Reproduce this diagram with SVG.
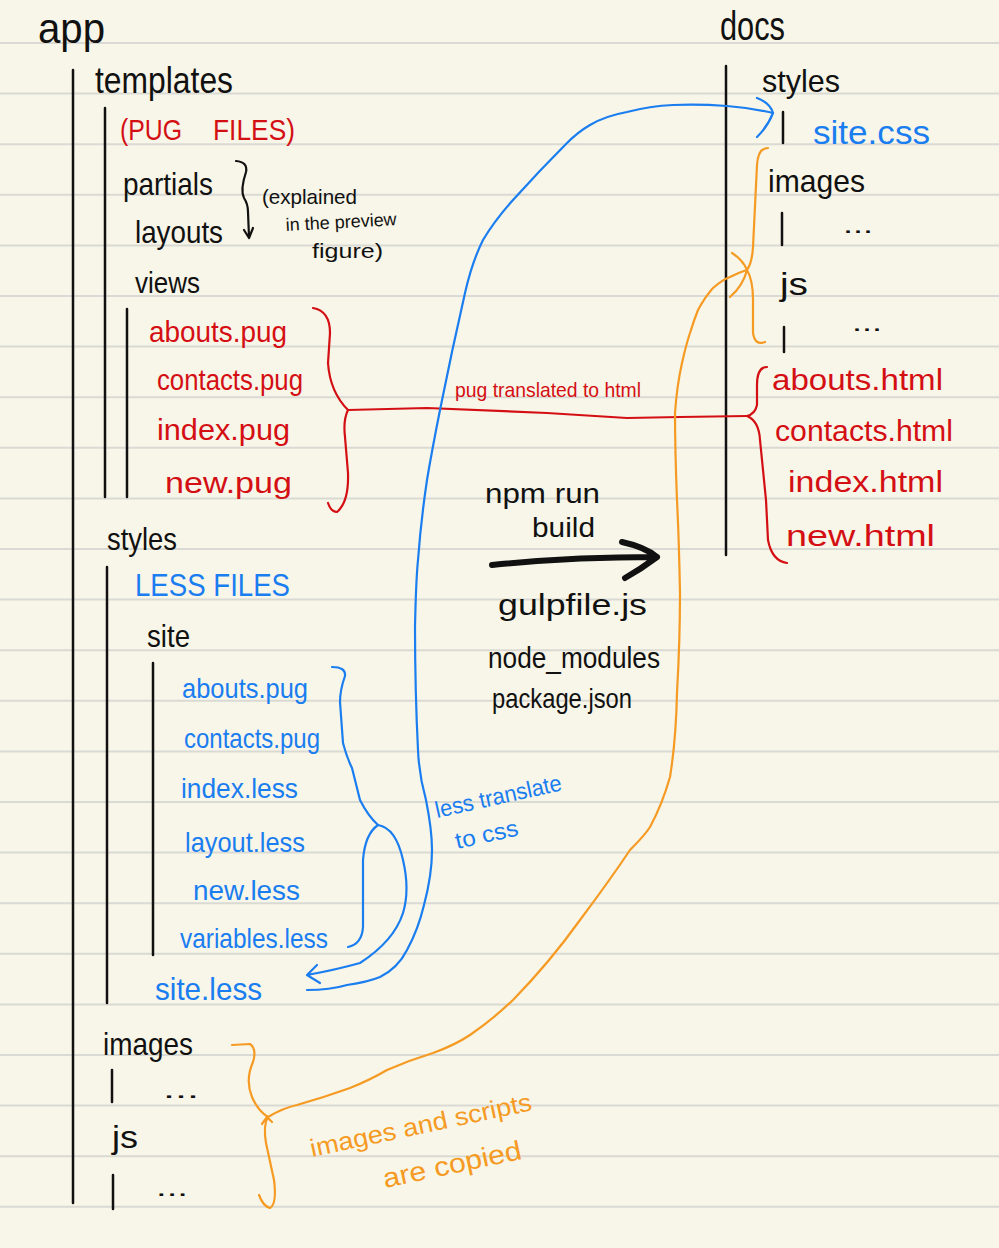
<svg xmlns="http://www.w3.org/2000/svg" width="999" height="1248" viewBox="0 0 999 1248">
<style>
text{font-family:"Liberation Sans","DejaVu Sans",sans-serif;}
.k{fill:#111;}
.r{fill:#d40f14;}
.b{fill:#1a7df0;}
.o{fill:#f59a23;}
.rule{stroke:#dadad4;stroke-width:2;}
.vl{stroke:#111;stroke-width:2.5;fill:none;stroke-linecap:round;}
.cb{stroke:#1a7df0;stroke-width:2.2;fill:none;stroke-linecap:round;stroke-linejoin:round;}
.cr{stroke:#d40f14;stroke-width:2.2;fill:none;stroke-linecap:round;stroke-linejoin:round;}
.co{stroke:#f59a23;stroke-width:2.2;fill:none;stroke-linecap:round;stroke-linejoin:round;}
.ck{stroke:#111;stroke-width:2.2;fill:none;stroke-linecap:round;stroke-linejoin:round;}
</style>
<rect width="999" height="1248" fill="#f8f6e8"/>
<g id="paper-rules">
<line class="rule" x1="0" x2="999" y1="43" y2="43"/>
<line class="rule" x1="0" x2="999" y1="93.6" y2="93.6"/>
<line class="rule" x1="0" x2="999" y1="144.2" y2="144.2"/>
<line class="rule" x1="0" x2="999" y1="194.8" y2="194.8"/>
<line class="rule" x1="0" x2="999" y1="245.4" y2="245.4"/>
<line class="rule" x1="0" x2="999" y1="296" y2="296"/>
<line class="rule" x1="0" x2="999" y1="346.6" y2="346.6"/>
<line class="rule" x1="0" x2="999" y1="397.2" y2="397.2"/>
<line class="rule" x1="0" x2="999" y1="447.8" y2="447.8"/>
<line class="rule" x1="0" x2="999" y1="498.4" y2="498.4"/>
<line class="rule" x1="0" x2="999" y1="549" y2="549"/>
<line class="rule" x1="0" x2="999" y1="599.6" y2="599.6"/>
<line class="rule" x1="0" x2="999" y1="650.2" y2="650.2"/>
<line class="rule" x1="0" x2="999" y1="700.8" y2="700.8"/>
<line class="rule" x1="0" x2="999" y1="751.4" y2="751.4"/>
<line class="rule" x1="0" x2="999" y1="802" y2="802"/>
<line class="rule" x1="0" x2="999" y1="852.6" y2="852.6"/>
<line class="rule" x1="0" x2="999" y1="903.2" y2="903.2"/>
<line class="rule" x1="0" x2="999" y1="953.8" y2="953.8"/>
<line class="rule" x1="0" x2="999" y1="1004.4" y2="1004.4"/>
<line class="rule" x1="0" x2="999" y1="1055" y2="1055"/>
<line class="rule" x1="0" x2="999" y1="1105.6" y2="1105.6"/>
<line class="rule" x1="0" x2="999" y1="1156.2" y2="1156.2"/>
<line class="rule" x1="0" x2="999" y1="1206.8" y2="1206.8"/>
</g>

<g id="tree-lines">
<line class="vl" x1="73" y1="70" x2="73" y2="1203"/>
<line class="vl" x1="105" y1="108" x2="105" y2="497"/>
<line class="vl" x1="127" y1="309" x2="127" y2="497"/>
<line class="vl" x1="107" y1="567" x2="107" y2="1003"/>
<line class="vl" x1="153" y1="663" x2="153" y2="955"/>
<line class="vl" x1="112" y1="1070" x2="112" y2="1102"/>
<line class="vl" x1="113" y1="1175" x2="113" y2="1209"/>
<line class="vl" x1="726" y1="66" x2="726" y2="555"/>
<line class="vl" x1="783" y1="112" x2="783" y2="143"/>
<line class="vl" x1="782" y1="213" x2="782" y2="245"/>
<line class="vl" x1="784" y1="327" x2="784" y2="352"/>
</g>

<g id="app">
<text class="k" x="38" y="43" font-size="42" textLength="67" lengthAdjust="spacingAndGlyphs">app</text>
</g>
<g id="templates">
<text class="k" x="95" y="93" font-size="36" textLength="138" lengthAdjust="spacingAndGlyphs">templates</text>
<text class="r" y="140" font-size="30"><tspan x="120" textLength="62" lengthAdjust="spacingAndGlyphs">(PUG</tspan><tspan x="213" textLength="82" lengthAdjust="spacingAndGlyphs">FILES)</tspan></text>
</g>
<g id="partials-layouts">
<text class="k" x="123" y="195" font-size="32" textLength="90" lengthAdjust="spacingAndGlyphs">partials</text>
<text class="k" x="135" y="243" font-size="32" textLength="88" lengthAdjust="spacingAndGlyphs">layouts</text>
<path class="ck" d="M236,161 Q248,162 246,172 Q240,190 244,198 Q248,204 248,212 L249,237 M244,230 L249,238 L253,228"/>
<text class="k" x="262" y="204" font-size="21" textLength="95" lengthAdjust="spacingAndGlyphs">(explained</text>
<text class="k" x="286" y="231" font-size="18" textLength="111" lengthAdjust="spacingAndGlyphs" transform="rotate(-3 286 231)">in the preview</text>
<text class="k" x="312" y="258" font-size="21" textLength="71" lengthAdjust="spacingAndGlyphs">figure)</text>
</g>
<g id="views">
<text class="k" x="135" y="293" font-size="30" textLength="65" lengthAdjust="spacingAndGlyphs">views</text>
<text class="r" x="149" y="342" font-size="30" textLength="138" lengthAdjust="spacingAndGlyphs">abouts.pug</text>
<text class="r" x="157" y="390" font-size="30" textLength="146" lengthAdjust="spacingAndGlyphs">contacts.pug</text>
<text class="r" x="157" y="440" font-size="30" textLength="133" lengthAdjust="spacingAndGlyphs">index.pug</text>
<text class="r" x="165" y="493" font-size="30" textLength="127" lengthAdjust="spacingAndGlyphs">new.pug</text>
</g>
<g id="styles">
<text class="k" x="107" y="550" font-size="32" textLength="70" lengthAdjust="spacingAndGlyphs">styles</text>
<text class="b" x="135" y="596" font-size="31" textLength="155" lengthAdjust="spacingAndGlyphs">LESS FILES</text>
<text class="k" x="147" y="647" font-size="32" textLength="43" lengthAdjust="spacingAndGlyphs">site</text>
<text class="b" x="182" y="698" font-size="28" textLength="126" lengthAdjust="spacingAndGlyphs">abouts.pug</text>
<text class="b" x="184" y="748" font-size="28" textLength="136" lengthAdjust="spacingAndGlyphs">contacts.pug</text>
<text class="b" x="181" y="798" font-size="28" textLength="117" lengthAdjust="spacingAndGlyphs">index.less</text>
<text class="b" x="185" y="852" font-size="28" textLength="120" lengthAdjust="spacingAndGlyphs">layout.less</text>
<text class="b" x="193" y="900" font-size="28" textLength="107" lengthAdjust="spacingAndGlyphs">new.less</text>
<text class="b" x="180" y="948" font-size="28" textLength="148" lengthAdjust="spacingAndGlyphs">variables.less</text>
<text class="b" x="155" y="1000" font-size="32" textLength="107" lengthAdjust="spacingAndGlyphs">site.less</text>
</g>
<g id="app-images-js">
<text class="k" x="103" y="1055" font-size="32" textLength="90" lengthAdjust="spacingAndGlyphs">images</text>
<text class="k" x="163" y="1098" font-size="24" textLength="36" lengthAdjust="spacingAndGlyphs">...</text>
<text class="k" x="112" y="1148" font-size="32" textLength="26" lengthAdjust="spacingAndGlyphs">js</text>
<text class="k" x="156" y="1196" font-size="24" textLength="32" lengthAdjust="spacingAndGlyphs">...</text>
</g>

<g id="docs">
<text class="k" x="720" y="40" font-size="40" textLength="65" lengthAdjust="spacingAndGlyphs">docs</text>
<text class="k" x="762" y="92" font-size="32" textLength="78" lengthAdjust="spacingAndGlyphs">styles</text>
<text class="b" x="813" y="144" font-size="34" textLength="117" lengthAdjust="spacingAndGlyphs">site.css</text>
<text class="k" x="768" y="192" font-size="32" textLength="97" lengthAdjust="spacingAndGlyphs">images</text>
<text class="k" x="843" y="233" font-size="24" textLength="30" lengthAdjust="spacingAndGlyphs">...</text>
<text class="k" x="780" y="295" font-size="32" textLength="28" lengthAdjust="spacingAndGlyphs">js</text>
<text class="k" x="852" y="331" font-size="24" textLength="30" lengthAdjust="spacingAndGlyphs">...</text>
<text class="r" x="772" y="390" font-size="30" textLength="171" lengthAdjust="spacingAndGlyphs">abouts.html</text>
<text class="r" x="775" y="441" font-size="30" textLength="178" lengthAdjust="spacingAndGlyphs">contacts.html</text>
<text class="r" x="788" y="492" font-size="30" textLength="155" lengthAdjust="spacingAndGlyphs">index.html</text>
<text class="r" x="786" y="546" font-size="30" textLength="149" lengthAdjust="spacingAndGlyphs">new.html</text>
</g>

<g id="build">
<text class="k" x="485" y="503" font-size="28" textLength="115" lengthAdjust="spacingAndGlyphs">npm run</text>
<text class="k" x="532" y="537" font-size="28" textLength="63" lengthAdjust="spacingAndGlyphs">build</text>
<path d="M492,565 Q570,557 657,557 M622,542 Q645,547 657,557 Q641,569 625,578" fill="none" stroke="#111" stroke-width="6" stroke-linecap="round" stroke-linejoin="round"/>
<text class="k" x="498" y="615" font-size="30" textLength="149" lengthAdjust="spacingAndGlyphs">gulpfile.js</text>
<text class="k" x="488" y="668" font-size="30" textLength="172" lengthAdjust="spacingAndGlyphs">node_modules</text>
<text class="k" x="492" y="708" font-size="28" textLength="140" lengthAdjust="spacingAndGlyphs">package.json</text>
</g>

<g id="connectors">
<!-- pug -> html (red) -->
<path class="cr" d="M313,308 Q330,311 330,333 L328,363 Q330,392 348,410 Q343,420 345,437 L348,473 Q349,502 337,512 Q331,512 328,503"/>
<path class="cr" d="M348,410 L427,408 L547,413 L627,418 L680,417 L747,416"/>
<path class="cr" d="M767,367 Q757,367 757,385 L757,405 Q755,414 747,416 Q759,421 760,440 L766,500 L768,540 Q772,561 787,563"/>
<text class="r" x="455" y="397" font-size="21" textLength="186" lengthAdjust="spacingAndGlyphs">pug translated to html</text>
<!-- less -> css (blue) -->
<path class="cb" d="M332,667 Q346,667 345,676 Q340,690 340,702 L343,743 Q347,758 352,768 L360,800 Q368,816 378,825"/>
<path class="cb" d="M378,825 Q396,828 403,860 Q410,890 403,913 Q394,941 360,963 Q335,970 307,975 M317,965 L307,975 L320,983"/>
<path class="cb" d="M378,825 Q365,834 363,860 L363,927 Q362,944 348,947"/>
<path class="cb" d="M307,990 Q330,990 347,985 Q368,982 380,977 Q398,968 407,950 Q418,930 424,905 Q432,875 432,850 Q432,830 426,800 Q419,775 418,750 Q415,690 415,627 Q416,580 418,560 Q421,520 427,480 Q432,450 440,410 Q452,350 465,293 Q472,262 483,240 Q495,220 513,200 Q540,170 567,143 Q578,132 590,125 Q605,116 627,112 Q650,106 673,105 Q700,104 727,106 Q752,108 773,113"/>
<path class="cb" d="M757,98 Q770,103 773,113 Q768,126 757,137"/>
<text class="b" x="437" y="818" font-size="23" textLength="129" lengthAdjust="spacingAndGlyphs" transform="rotate(-12.5 437 818)">less translate</text>
<text class="b" x="457" y="849" font-size="23" textLength="64" lengthAdjust="spacingAndGlyphs" transform="rotate(-12.5 457 849)">to css</text>
<!-- images and scripts copied (orange) -->
<path class="co" d="M232,1045 L250,1044 Q257,1049 253,1062 Q245,1080 252,1097 Q258,1111 268,1117"/>
<path class="co" d="M268,1117 Q263,1125 266,1143 L274,1180 Q277,1204 270,1208 Q263,1206 259,1195 M262,1124 L267,1117 L272,1122"/>
<path class="co" d="M268,1117 Q283,1108 297,1105 Q325,1097 350,1088 Q370,1080 387,1070 Q410,1060 433,1053 Q455,1045 470,1035 Q492,1020 513,1000 Q550,962 580,920 Q610,880 630,850 Q645,835 650,827 Q662,805 670,777 Q676,740 677,693 Q680,640 680,593 Q679,540 677,500 Q675,450 675,413 Q677,385 682,363 Q686,345 690,333 Q694,320 698,310 Q705,297 713,288 Q722,280 730,277 Q740,272 747,270"/>
<path class="co" d="M732,253 Q743,260 747,270 Q743,286 730,297"/>
<path class="co" d="M768,148 Q758,148 757,165 L753,247 Q752,263 747,270 Q753,280 753,300 L753,333 Q755,346 765,342"/>
<text class="o" x="312" y="1157" font-size="25" textLength="226" lengthAdjust="spacingAndGlyphs" transform="rotate(-12 312 1157)">images and scripts</text>
<text class="o" x="385" y="1188" font-size="27" textLength="141" lengthAdjust="spacingAndGlyphs" transform="rotate(-12 385 1188)">are copied</text>
</g>
</svg>
